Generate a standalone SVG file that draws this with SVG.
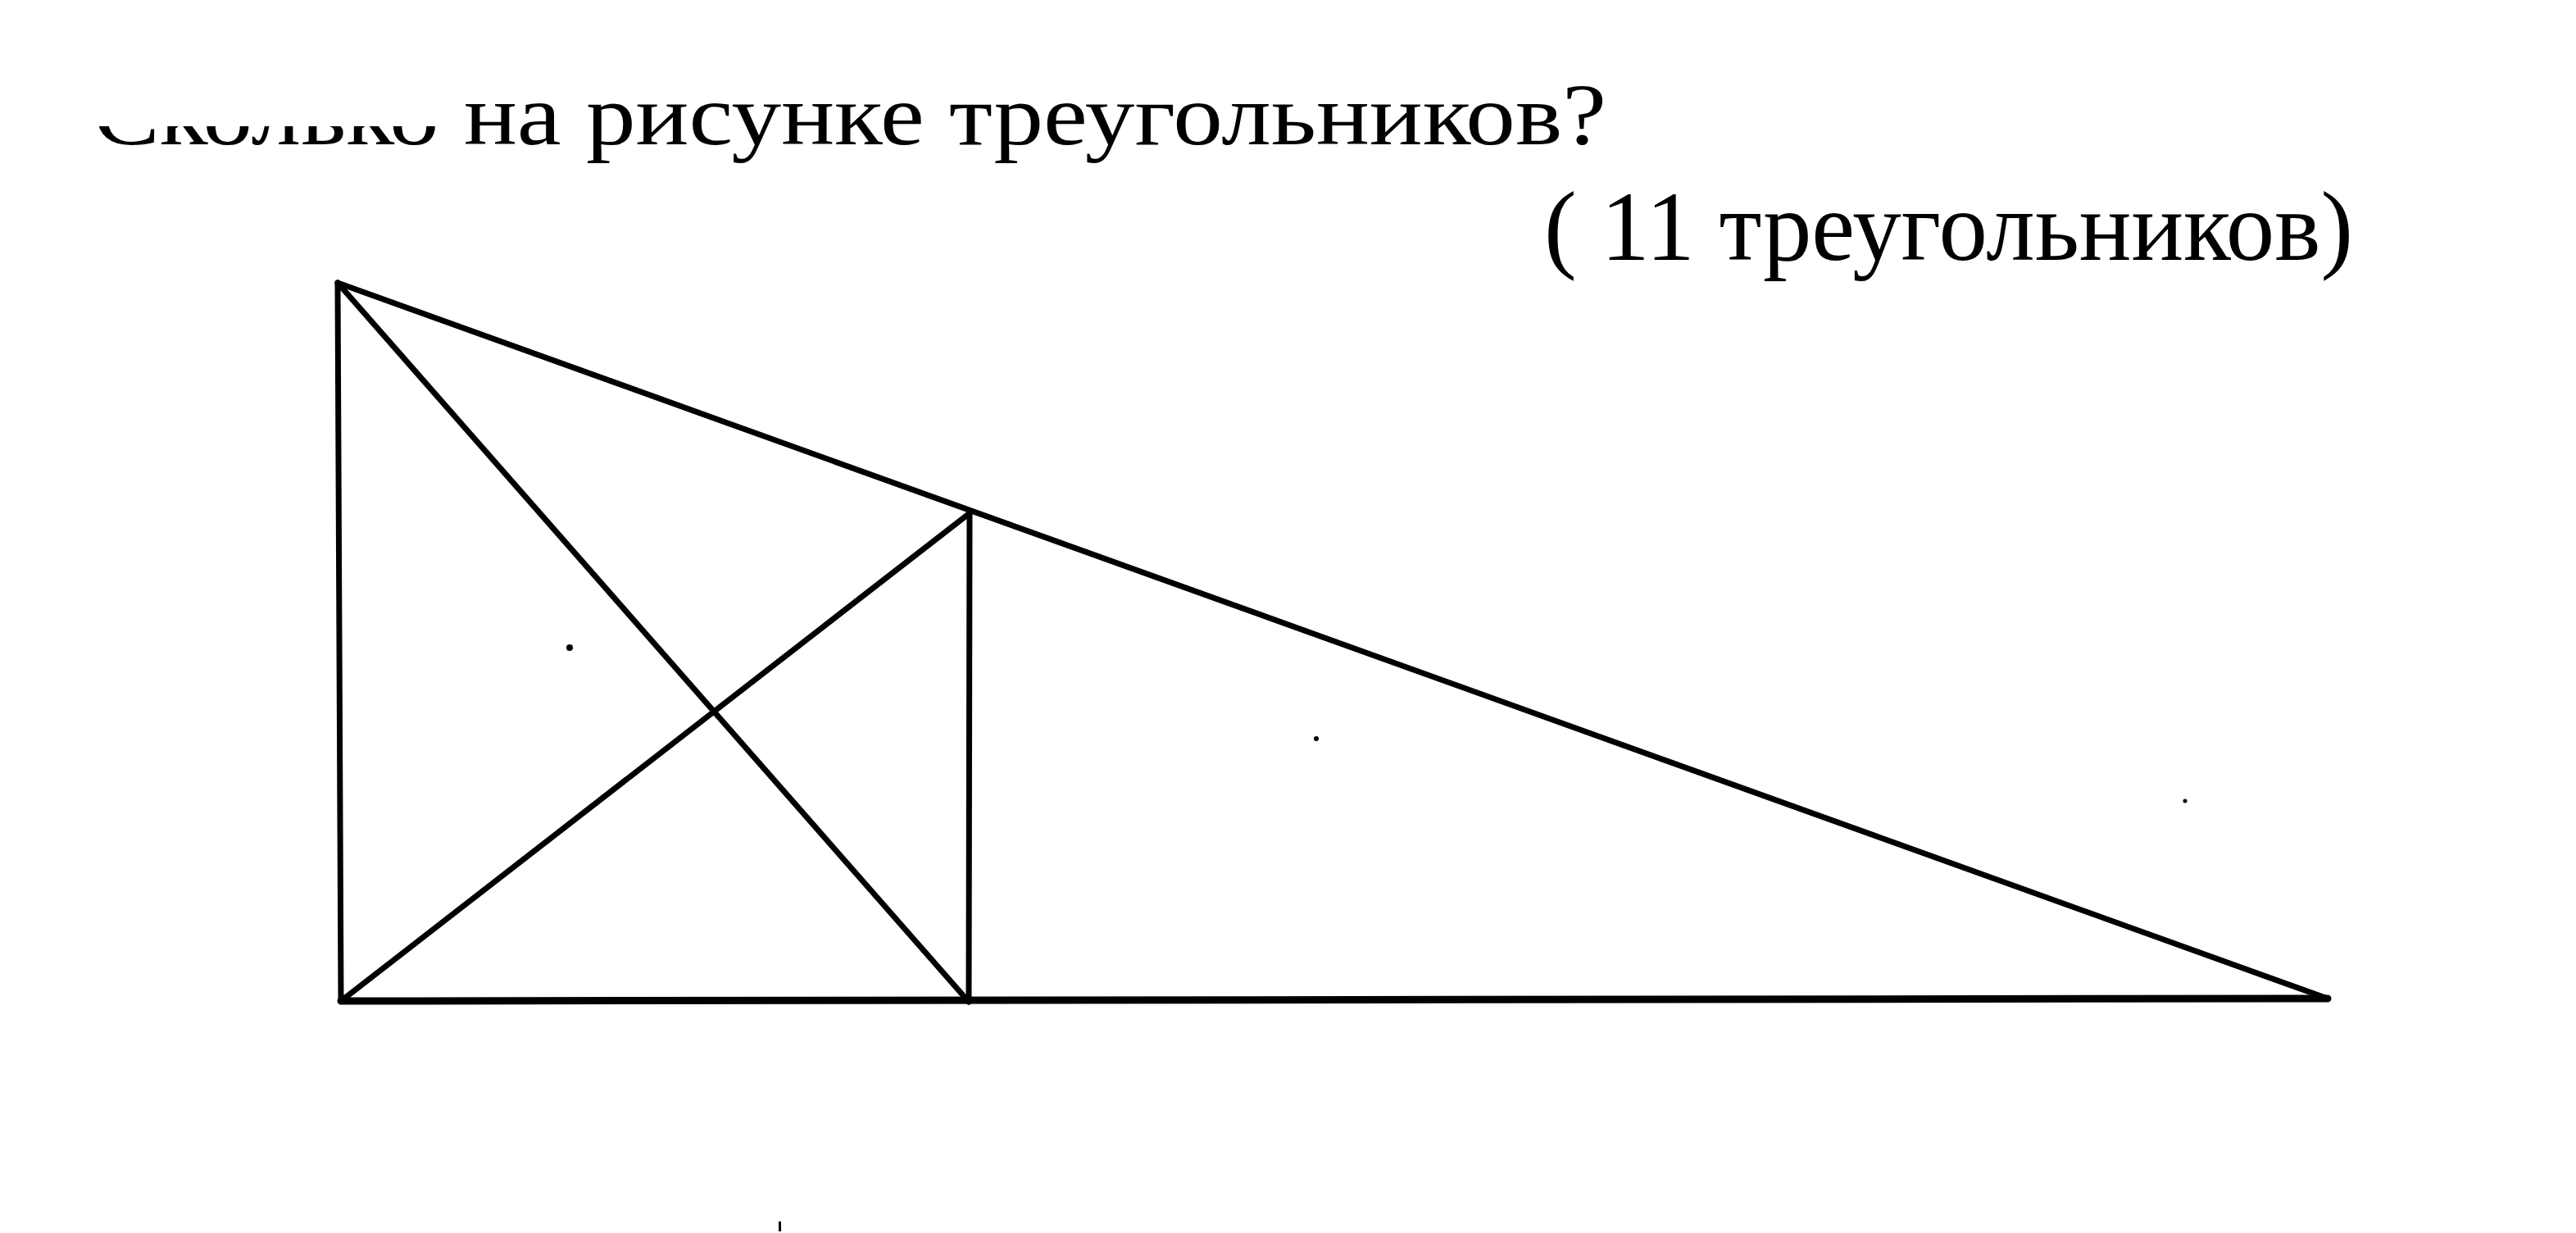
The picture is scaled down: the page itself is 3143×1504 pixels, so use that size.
<svg xmlns="http://www.w3.org/2000/svg" width="3143" height="1504" viewBox="0 0 3143 1504">
<style>
.t{font-family:"Liberation Serif","Times New Roman",serif;fill:#000}
.ln{stroke:#000;stroke-width:7;fill:none;stroke-linecap:round;stroke-linejoin:round}
</style>
<rect width="3143" height="1504" fill="#fff"/>
<g id="question">
<text class="t" x="114" y="176" font-size="106" textLength="1846" lengthAdjust="spacingAndGlyphs">Сколько на рисунке треугольников?</text>
<rect x="100" y="60" width="440" height="94" fill="#fff"/>
</g>
<g id="answer">
<text class="t" x="1884" y="317" font-size="120" textLength="987" lengthAdjust="spacingAndGlyphs">( 11 треугольников)</text>
</g>
<g id="figure" class="ln">
<line x1="412" y1="345" x2="416" y2="1221"/>
<line x1="412" y1="345" x2="2840" y2="1218"/>
<line x1="412" y1="345" x2="1182" y2="1222"/>
<line x1="416" y1="1221" x2="1183" y2="626"/>
<line x1="1183" y1="626" x2="1182" y2="1222"/>
<line x1="416" y1="1221" x2="2840" y2="1218" stroke-width="9"/>
</g>
<g id="specks" fill="#000">
<circle cx="695" cy="790" r="4"/>
<circle cx="1606" cy="901" r="3"/>
<circle cx="2666" cy="977" r="2.5"/>
<rect x="950" y="1490" width="3" height="12"/>
</g>
</svg>
